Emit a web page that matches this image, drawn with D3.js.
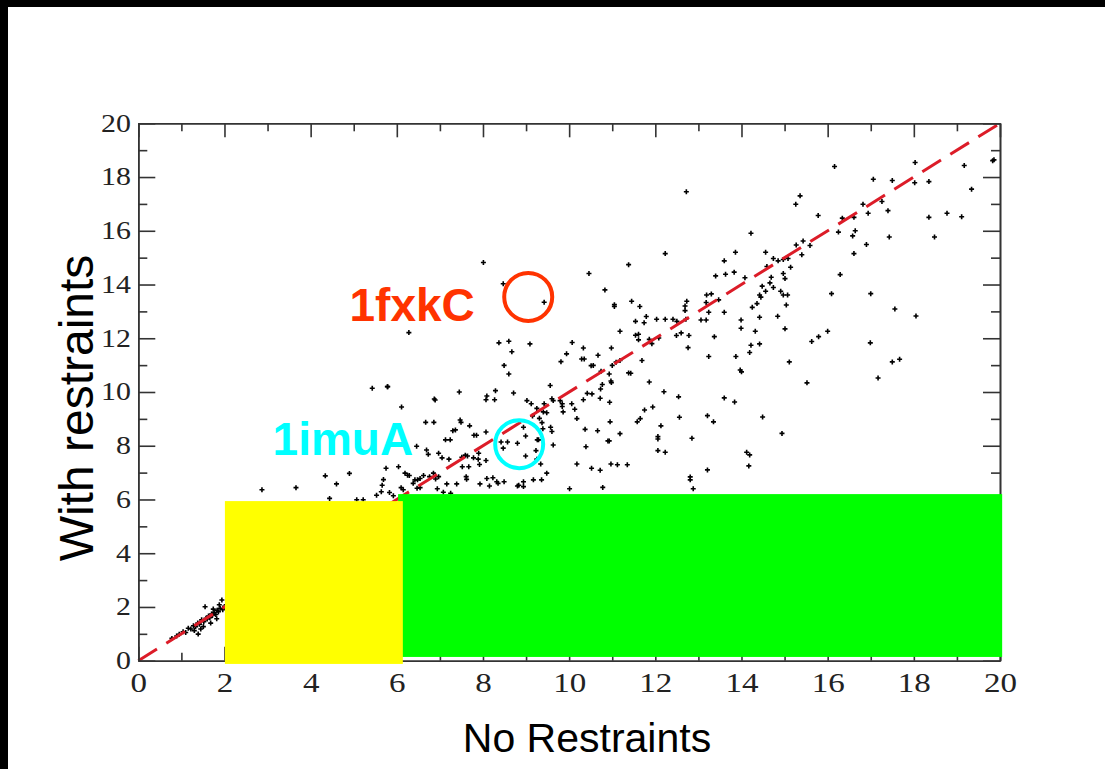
<!DOCTYPE html>
<html>
<head>
<meta charset="utf-8">
<script src="https://cdn.jsdelivr.net/npm/d3@7"></script>
<style>
  html, body { margin: 0; padding: 0; background: #000; }
  svg { display: block; }
</style>
</head>
<body>
<div id="chart"></div>
<script>
// values: [no restraints, with restraints]
var points = [
  // upper right
  [16.16,18.39],[17.06,17.92],[17.50,17.87],[18.03,18.54],[18.02,17.79],[18.35,17.83],[19.17,18.43],[19.83,18.61],[19.86,18.64],
  [19.34,17.55],[17.26,17.09],[16.82,16.99],[17.40,16.75],[16.94,16.65],[15.78,16.57],[15.26,16.99],[15.36,17.30],[16.34,16.47],
  [16.61,16.50],[18.35,16.50],[18.77,16.65],[19.11,16.52],[16.25,15.95],[16.58,15.81],[16.64,16.00],[17.43,15.77],[18.48,15.77],
  [14.22,15.91],[15.27,15.47],[15.43,15.62],[15.40,15.11],[15.59,15.45],[16.29,14.37],[16.09,13.66],[17.00,13.66],[16.90,15.49],
  [16.61,15.15],[17.56,13.09],[18.05,12.83],[15.14,14.64],[15.08,14.97],[14.97,14.93],[14.85,14.88],[14.74,14.97],[14.56,15.20],
  [14.59,14.67],[13.86,15.20],[13.60,14.88],[13.40,14.32],[13.63,14.38],[13.83,14.46],[14.08,14.25],[13.19,13.61],[13.30,13.65],
  [13.47,13.43],[13.18,13.33],[13.24,12.97],[13.60,12.97],[13.06,12.68],[13.18,12.68],[13.99,12.68],[13.99,12.37],[14.25,13.15],
  [14.36,13.29],[14.42,13.61],[14.45,13.53],[14.48,13.94],[14.56,13.75],[14.69,14.27],[14.66,14.06],[14.74,13.89],[14.91,13.75],
  [14.97,13.61],[15.07,13.61],[14.97,14.41],[15.01,14.22],[15.04,13.24],[14.42,12.78],[14.84,12.82],[15.01,12.35],[14.32,12.26],
  [13.37,12.06],[14.22,11.74],[14.42,11.79],[15.63,11.88],[15.79,12.06],[16.00,12.26],[16.99,11.83],
  // lower right
  [14.19,11.47],[13.24,11.32],[13.87,11.32],[13.97,10.82],[14.00,10.75],[15.11,11.12],[15.52,10.34],[17.17,10.52],[17.50,11.12],
  [17.67,11.22],[13.60,9.78],[13.84,9.63],[13.21,9.12],[13.35,8.89],[14.49,9.07],[14.94,8.46],[14.12,7.76],[14.19,7.66],
  [14.17,7.25],[13.21,7.10],
  // upper middle
  [12.72,17.45],[12.23,15.15],[11.38,14.74],[10.46,14.41],[10.83,13.80],[11.05,13.25],[11.05,13.18],[11.45,13.38],[11.64,13.18],
  [8.01,14.82],[8.47,14.03],[9.42,13.34],[6.28,12.21],[8.37,11.83],[8.60,11.89],[9.09,11.79],[10.07,11.84],[10.33,11.64],
  [10.98,11.64],[11.18,12.26],[11.54,12.63],[11.74,12.58],[12.03,12.71],[12.23,12.71],[12.41,12.71],[12.50,12.63],[12.71,12.71],
  [12.73,13.38],[12.69,13.20],[12.69,13.03],[12.49,12.10],[12.60,12.20],[12.78,12.10],[12.76,11.65],[11.61,12.15],[11.61,11.94],
  [11.79,12.81],[11.86,11.96],[12.08,12.01],[11.92,11.80],[11.54,12.11],
  // middle
  [5.79,10.20],[6.11,9.44],[7.45,10.00],[6.87,9.74],[6.89,9.70],[6.67,8.87],[6.86,8.87],[7.47,8.96],[7.49,8.87],[7.69,8.74],
  [7.30,8.56],[7.36,8.59],[7.13,8.22],[7.24,8.22],[7.79,8.39],[7.85,8.39],[8.07,8.51],[6.46,7.98],[6.69,7.84],[6.73,7.68],
  [6.97,7.72],[7.05,7.55],[7.21,7.50],[7.51,7.57],[7.59,7.65],[7.64,7.62],[7.78,7.55],[7.89,7.50],[7.92,7.30],[8.07,7.45],
  [8.09,6.78],[8.23,6.81],[8.32,6.66],[8.35,6.60],[8.49,6.66],[7.39,6.58],[7.16,6.58],[7.61,6.85],[7.62,6.75],[7.93,6.58],
  [8.15,6.50],[8.80,6.50],[8.94,6.66],[9.17,6.73],[9.36,6.73],[10.01,6.40],[9.48,6.98],[9.34,7.32],[9.25,7.50],[9.23,7.82],
  [8.99,7.62],[8.80,8.09],[8.47,7.91],[8.42,8.14],[8.57,8.14],[8.94,8.69],[8.99,8.36],[9.26,8.22],[9.29,8.22],[9.39,8.63],
  [9.63,8.03],[9.60,8.53],[9.57,8.69],[9.37,8.86],[9.31,9.02],[9.40,9.26],[9.48,9.23],[9.60,9.75],[9.63,9.68],[9.79,9.68],
  [9.84,9.56],[9.02,9.68],[9.12,9.56],[9.25,9.39],[9.42,9.56],[9.15,9.11],[8.29,10.05],[8.09,9.85],[8.07,9.71],[8.27,9.71],
  [8.71,9.96],[9.56,10.24],[8.49,10.99],[8.60,10.67],[8.67,11.50],[9.94,11.42],[9.81,11.13],[10.29,11.23],[10.35,11.23],[10.67,11.37],
  [10.51,10.98],[10.56,10.99],[10.74,10.77],[11.00,10.99],[11.09,11.11],[11.18,11.17],[10.93,10.67],[10.97,10.41],[10.98,10.35],[10.42,9.95],
  [10.53,9.93],[10.73,10.11],[10.77,10.28],[10.94,9.62],[10.72,9.77],[10.33,9.71],[10.06,9.56],[9.86,9.26],[10.13,9.36],[10.18,9.01],
  [9.84,9.46],[10.37,8.61],[10.66,8.56],[10.39,7.96],[10.90,8.18],[10.93,8.18],[10.95,8.89],[11.18,8.45],[11.58,8.89],[11.65,9.01],
  [11.75,9.33],[11.94,9.44],[12.13,8.74],[12.06,8.34],[12.06,8.25],[12.06,7.82],[12.23,7.76],[12.20,10.01],[12.54,9.82],[12.56,9.06],
  [12.85,8.28],[12.81,6.84],[12.81,6.73],[12.88,6.40],[11.38,10.71],[11.43,10.70],[11.69,11.17],[11.86,10.37],[10.97,7.32],[11.12,7.29],
  [11.35,7.29],[10.72,7.09],[10.52,7.16],[10.78,6.45],[10.18,7.32],[8.94,6.48],[8.83,6.53],[5.69,6.74],[5.75,7.16],[6.04,7.22],
  [6.19,6.98],[6.25,6.90],[6.29,6.89],[6.42,6.73],[6.48,6.73],[6.54,6.78],[6.62,6.89],[6.76,6.85],[6.85,6.98],[6.97,6.85],
  [6.90,6.76],[6.94,6.40],[7.25,6.23],[7.08,6.27],[6.47,6.42],[6.54,6.44],[6.10,6.44],[6.15,6.36],[5.64,6.29],[5.66,6.53],
  [6.38,6.60],[5.83,6.26],[5.92,6.14],[7.52,7.22],[7.67,7.22],[7.90,7.72],
  // left
  [5.43,10.14],[5.78,10.20],[2.87,6.36],[3.66,6.44],[4.34,6.88],[4.60,6.58],[4.90,6.97],[4.44,6.04],[5.07,5.99],[5.22,5.99],
  [5.53,6.16],
  // near the origin
  [0.78,0.83],[0.89,0.92],[0.95,0.98],[1.04,1.08],[1.10,1.05],[1.16,1.21],[1.22,1.18],[1.28,1.30],[1.33,1.27],[1.38,1.40],
  [1.39,0.99],[1.42,1.36],[1.47,1.52],[1.51,1.27],[1.52,1.45],[1.55,2.01],[1.57,1.58],[1.60,1.55],[1.63,1.66],[1.66,1.60],
  [1.70,1.74],[1.72,1.68],[1.76,1.80],[1.80,1.72],[1.83,1.88],[1.86,1.82],[1.90,1.95],[1.94,2.26],[1.96,1.90],[2.00,2.02],
  [1.68,1.40],[1.82,1.56],[1.30,1.12],[1.45,1.18],[1.74,1.92],[1.88,2.08]
]

var majorTicks = [0, 2, 4, 6, 8, 10, 12, 14, 16, 18, 20]
var minorTicks = [1, 3, 5, 7, 9, 11, 13, 15, 17, 19]
var diagonal = [[0, 0], [20, 20]]

// shaded boxes in data units
var boxes = [
  {x0: 6.03, x1: 20.05, y0: 0.14, y1: 6.20, color: "#00ff00"},
  {x0: 2.01, x1: 6.14, y0: -0.12, y1: 5.94, color: "#ffff00"}
]

// circled proteins: circle centre, then where the name ends
var labels = [
  {name: "1fxkC", x: 9.05, y: 13.54, tx: 7.81, ty: 12.64, color: "#ff3300"},
  {name: "1imuA", x: 8.84, y: 8.06, tx: 6.38, ty: 7.66, color: "#00ffff"}
]

var svgSize = {width: 1105, height: 769}
var plot = {left: 138.3, right: 1000, top: 123.3, bottom: 660.7}

var svg = d3.select("#chart").append("svg")
    .attr("width", svgSize.width)
    .attr("height", svgSize.height)

svg.append("rect").attr("width", svgSize.width).attr("height", svgSize.height).attr("fill", "#000")
svg.append("rect").attr("x", 8).attr("y", 7)
    .attr("width", svgSize.width - 8).attr("height", svgSize.height - 7)
    .attr("fill", "#fff")

var xScale = d3.scaleLinear().domain([0, 20]).range([plot.left, plot.right])
var yScale = d3.scaleLinear().domain([0, 20]).range([plot.bottom, plot.top])

// points
var cross = "M-2.5,0H2.5M0,-2.5V2.5"
svg.append("g").selectAll("path").data(points)
    .enter().append("path")
    .attr("d", cross)
    .attr("transform", d => `translate(${xScale(d[0])},${yScale(d[1])})`)
    .attr("stroke", "#000")
    .attr("stroke-width", 1.6)
    .attr("fill", "none")

// y = x
svg.append("path")
    .datum(diagonal)
    .attr("d", d3.line().x(d => xScale(d[0])).y(d => yScale(d[1])))
    .attr("stroke", "#dc1c28")
    .attr("stroke-width", 3)
    .attr("stroke-dasharray", "22,11")
    .attr("fill", "none")

// axes, ticks pointing inward on all four sides
function addAxis(axis, transform, size, ticks, withLabels, fontSize, pad, stretch) {
    var a = axis.tickValues(ticks).tickSizeInner(-size).tickSizeOuter(0).tickPadding(pad || 3)
    if (!withLabels) a.tickFormat("")
    var g = svg.append("g").attr("transform", transform).call(a)
    if (fontSize) g.attr("font-size", fontSize)
    g.selectAll("path, line").attr("stroke", "#333").attr("stroke-width", 1.6)
    g.selectAll("text").attr("fill", "#222")
        .attr("font-family", "'Liberation Serif', 'Times New Roman', serif")
    if (stretch) g.selectAll("text").attr("transform", `scale(${stretch},1)`)
    return g
}
addAxis(d3.axisBottom(xScale), `translate(0,${plot.bottom})`, 14, majorTicks, true, 28, 11, 1.18)
addAxis(d3.axisBottom(xScale), `translate(0,${plot.bottom})`, 8, minorTicks, false)
addAxis(d3.axisTop(xScale), `translate(0,${plot.top})`, 14, majorTicks, false)
addAxis(d3.axisTop(xScale), `translate(0,${plot.top})`, 8, minorTicks, false)
addAxis(d3.axisLeft(yScale), `translate(${plot.left},0)`, 17, majorTicks, true, 24.5, 6, 1.22)
addAxis(d3.axisLeft(yScale), `translate(${plot.left},0)`, 9, minorTicks, false)
addAxis(d3.axisRight(yScale), `translate(${plot.right},0)`, 17, majorTicks, false)
addAxis(d3.axisRight(yScale), `translate(${plot.right},0)`, 9, minorTicks, false)

// coloured boxes sit over the data
svg.append("g").selectAll("rect").data(boxes)
    .enter().append("rect")
    .attr("x", d => xScale(d.x0))
    .attr("y", d => yScale(d.y1))
    .attr("width", d => xScale(d.x1) - xScale(d.x0))
    .attr("height", d => yScale(d.y0) - yScale(d.y1))
    .attr("fill", d => d.color)

// highlighted proteins
var marks = svg.append("g").selectAll("g").data(labels).enter().append("g")
marks.append("circle")
    .attr("cx", d => xScale(d.x))
    .attr("cy", d => yScale(d.y))
    .attr("r", 24)
    .attr("fill", "none")
    .attr("stroke", d => d.color)
    .attr("stroke-width", 4)
marks.append("text")
    .attr("x", d => xScale(d.tx))
    .attr("y", d => yScale(d.ty))
    .attr("text-anchor", "end")
    .attr("font-family", "'Liberation Sans', Arial, sans-serif")
    .attr("font-weight", "bold")
    .attr("font-size", 46)
    .attr("fill", d => d.color)
    .text(d => d.name)

// axis titles
svg.append("text")
    .attr("x", 587).attr("y", 752)
    .attr("text-anchor", "middle")
    .attr("font-family", "'Liberation Sans', Arial, sans-serif")
    .attr("font-size", 41)
    .attr("fill", "#000")
    .text("No Restraints")
svg.append("text")
    .attr("transform", "translate(93,408) rotate(-90)")
    .attr("text-anchor", "middle")
    .attr("font-family", "'Liberation Sans', Arial, sans-serif")
    .attr("font-size", 48)
    .attr("fill", "#000")
    .text("With restraints")
</script>
</body>
</html>
